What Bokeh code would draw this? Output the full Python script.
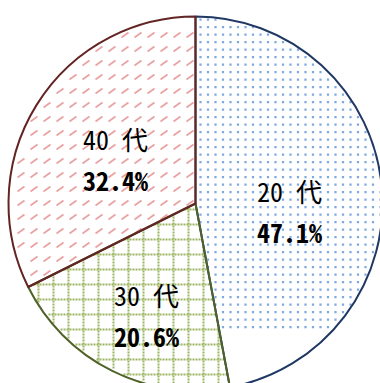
import numpy as np
from bokeh.plotting import figure
from bokeh.models import Range1d
from bokeh.core.properties import value
from bokeh.embed import file_html
from bokeh.resources import INLINE

# data
ages = ["20 代", "30 代", "40 代"]
shares = [47.1, 20.6, 32.4]
pct_labels = ["47.1%", "20.6%", "32.4%"]

# styles
outlines = ["#203864", "#4f6228", "#632523"]
dot_color = "#7ea9e0"
grid_color = "#9bb562"
dash_color = "#e8a3a2"
label_r = [0.505, 0.666, 0.483]
label_shift = [-0.194, 0.056, 0.070]

W, H = 380, 383
p = figure(width=W, height=H, output_backend="svg", toolbar_location=None,
           x_range=Range1d(0, W), y_range=Range1d(0, H), min_border=0,
           outline_line_color=None)
p.axis.visible = False
p.grid.visible = False

cx, cy, r = 195, 180, 187
fr = np.array(shares) / np.sum(shares)
ends = np.pi / 2 - 2 * np.pi * np.cumsum(fr)
starts = np.concatenate([[np.pi / 2], ends[:-1]])


def inside(i, x, y, pad=1.5):
    dx, dy = x - cx, y - cy
    a = np.arctan2(dy, dx)
    span = starts[i] - ends[i]
    rel = np.mod(starts[i] - a, 2 * np.pi)
    return (np.hypot(dx, dy) < r - pad) & (rel < span)


# white base wedges
for i in range(3):
    p.wedge(x=cx, y=cy, radius=r, start_angle=starts[i], end_angle=ends[i],
            direction="clock", fill_color="white", line_color=None)

# slice 1: dotted fill
g = np.arange(-30, 31)
gx, gy = np.meshgrid(305 + 7.5 * g, 281.3 + 7.5 * g)
gx, gy = gx.ravel(), gy.ravel()
m = inside(0, gx, gy)
p.scatter(gx[m], gy[m], marker="square", size=2.2, fill_color=dot_color,
          line_color=None)

# slice 2: dotted grid
lines = 68 + 15 * np.arange(-10, 25)
steps = np.arange(-200, 400, 3.0)
vx, vy = np.meshgrid(lines, steps)
hlines = 69 + 15 * np.arange(-10, 25)
hy, hx = np.meshgrid(hlines, steps)
px = np.concatenate([vx.ravel(), hx.ravel()])
py = np.concatenate([vy.ravel(), hy.ravel()])
m = inside(1, px, py)
p.scatter(px[m], py[m], marker="square", size=2, fill_color=grid_color,
          line_color=None)

# slice 3: diagonal dashes
dx0, dy0 = np.meshgrid(30 + 13 * np.arange(-20, 30), 178 + 14 * np.arange(-20, 30))
x0, y0 = dx0.ravel(), dy0.ravel()
x1, y1 = x0 + 7, y0 + 5
m = inside(2, x0, y0, 2) & inside(2, x1, y1, 2)
p.segment(x0[m], y0[m], x1[m], y1[m], line_color=dash_color, line_width=1.7)

# outlines
for i in range(3):
    p.wedge(x=cx, y=cy, radius=r, start_angle=starts[i], end_angle=ends[i],
            direction="clock", fill_color=None, line_color=outlines[i],
            line_width=2)

font = value("Noto Sans Mono CJK JP")
for i in range(3):
    mid = (starts[i] + ends[i]) / 2 + label_shift[i]
    lx = cx + label_r[i] * r * np.cos(mid)
    ly = cy + label_r[i] * r * np.sin(mid) + 2.5
    p.text(x=[lx], y=[ly + 20.5], text=[ages[i]], text_font=font,
           text_font_size="26px", text_align="center", text_baseline="middle",
           text_color="black")
    p.text(x=[lx], y=[ly - 20.5], text=[pct_labels[i]], text_font=font,
           text_font_size="26px", text_font_style="bold",
           text_align="center", text_baseline="middle", text_color="black")

open("out.html", "w").write(file_html(p, INLINE))
